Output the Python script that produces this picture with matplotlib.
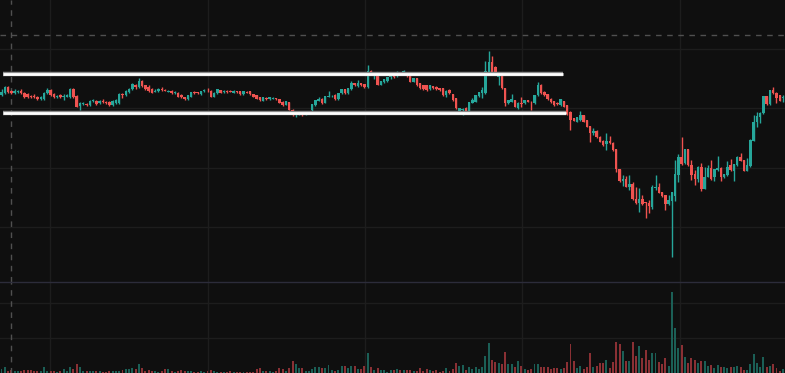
import matplotlib.pyplot as plt
import numpy as np

# candle data, one value per bar (price units are arbitrary)
opens = [205, 207, 213, 209, 207, 208, 209, 207, 206, 204, 204, 203, 201, 201, 207, 210, 206, 203, 205, 203,
         203, 203, 211, 204, 194, 196, 196, 195, 199, 199, 197, 199, 198, 198, 195, 197, 197, 206, 205, 208,
         211, 215, 213, 219, 215, 213, 211, 208.5, 209, 210.5, 210, 208.5, 209.3, 206.7, 207.3, 204.7, 202.7, 201.3, 203.3, 207.7,
         207.7, 206, 208.7, 209.3, 209.3, 203.3, 206.7, 210, 208, 209.3, 209, 207.3, 209.3, 208.7, 206, 208.5, 208.7, 206, 204.7, 202.7,
         199.3, 202.3, 200.7, 201.5, 201.7, 200.7, 198.3, 195.3, 198, 190, 184.7, 186, 186.7, 186, 187, 190, 195, 199.3, 201.3, 197.3,
         203.5, 203.7, 205.3, 200.7, 206.7, 210.7, 206.7, 210.7, 216.7, 214, 216.7, 216, 212.7, 229.3, 224, 224, 215.3, 218, 218.7, 222.7,
         226.7, 224, 227.5, 226.7, 226.7, 225, 218.3, 221.7, 216.7, 215, 215, 210.7, 214, 213.3, 211.7, 211.7, 205, 210, 206, 201.7,
         189.3, 190, 191.7, 189.3, 197.3, 198.3, 204, 206.7, 206.7, 228.3, 238.3, 232.7, 223.3, 226, 211.7, 196.7, 198.3, 200, 191.7, 197,
         196.7, 200, 198.3, 196.7, 205, 215, 208, 206, 201.3, 199.3, 197.5, 195, 198.7, 195, 188.3, 181.7, 178.3, 180, 185, 180,
         174, 167.3, 169.3, 163.3, 159.3, 155.7, 159, 157.3, 151, 130.7, 119.3, 121.3, 113.3, 116, 100.7, 96.7, 100.7, 97.5, 96.7, 93.3,
         111.7, 112.7, 108.3, 105, 96, 99.3, 104, 125, 142.7, 136.7, 150.7, 135, 126, 120.7, 132.7, 111.3, 123.3, 131.7, 122.7, 130,
         131.7, 122.7, 125, 135, 129.3, 135, 142.7, 140, 129.3, 134, 159.3, 178, 183.3, 186.7, 204, 196, 210, 206.7, 205, 202,
         203]
highs = [211, 214, 214, 210, 211, 210, 211, 208, 207, 205, 206, 204, 204, 208, 212, 211, 207, 205, 206, 206,
         206, 212, 212, 205, 198, 198, 197, 200, 201, 200, 200, 201, 199, 199, 200, 201, 207, 207, 210, 212,
         217, 216, 222, 220, 215, 215, 212, 211, 212, 213, 211, 210.5, 210, 209, 208, 206, 203.5, 205, 208.5, 209,
         208.5, 209.5, 211, 211.7, 210, 208, 211, 210.5, 210.5, 210, 210, 210.5, 209.5, 209, 209, 209.5, 209.5, 206.5, 205, 203,
         203, 203, 203.5, 203, 202, 201, 199, 199, 198.5, 191.5, 187, 187.5, 187.5, 189.3, 189, 196.5, 200.5, 202.7, 202, 204.5,
         209.3, 205, 206, 207.5, 211, 211.5, 212.5, 219.3, 217.5, 220, 217.3, 216.5, 235, 230, 226.7, 224.5, 219, 221, 223, 226,
         227, 229, 228.5, 230, 227.5, 226, 222, 222, 217, 215.5, 215.5, 215.5, 214.5, 214, 212.5, 212.5, 210, 211, 206.5, 202,
         192, 192, 193, 198.5, 202, 205.5, 208.5, 213.3, 239, 249, 244, 234, 228.5, 227, 212, 200.5, 206, 200.5, 198, 203.3,
         200.5, 200.5, 199, 205.5, 218.3, 216.5, 209, 206.5, 202, 199.5, 198, 201, 199.5, 195.5, 189, 182, 183, 189.3, 185.5, 180.5,
         174.5, 171.7, 170, 164, 160, 167.3, 164, 158, 151.5, 131, 125, 124, 125, 118.3, 113.3, 112, 105, 98, 100, 115,
         125, 116.7, 108.5, 105.5, 105, 108.5, 140, 146, 162.7, 151, 151, 140, 130, 134, 136.7, 132.7, 135, 140, 131, 144,
         132.7, 126.5, 139, 140.7, 136.5, 144, 146.7, 140.5, 141.7, 161, 185, 188.3, 188, 204.5, 204.5, 210.5, 212.7, 208.3, 205.5, 205,
         205]
lows = [204, 206, 207, 206, 206, 207, 206, 202, 202, 202, 202, 200, 200, 200, 206, 204, 202, 202, 202, 200,
        203, 202, 202, 193, 190, 195, 194, 194, 198, 195, 196, 197, 196, 194, 194, 196, 196, 202, 204, 207,
        210, 211, 212, 213, 210, 208, 207, 208, 208, 209, 209, 208, 206, 206, 203, 202, 200.5, 200.5, 203, 206,
        206, 205.5, 208, 208.5, 203, 203, 206, 207, 207.5, 207.5, 208, 207, 207.5, 205.5, 205.5, 207, 205.5, 203, 201, 199,
        199, 200, 200, 201, 200, 197, 194.5, 195, 190, 184, 182.7, 185.5, 184.5, 185.5, 186.5, 189.5, 194.5, 199, 196, 197,
        202.7, 203, 200, 200, 206, 206, 206.5, 210, 214, 213.5, 214, 212, 212, 225.5, 221.3, 215, 215, 217.5, 218, 221,
        222, 223.5, 226, 226, 223.5, 218, 218, 214, 211, 210, 209.5, 210, 211, 210, 209, 204.5, 203.5, 206, 199.5, 191,
        189, 185, 189, 189, 197, 198, 203.5, 202, 206, 228, 228, 228, 215, 211, 193.7, 196, 198, 193, 191.3, 193.3,
        196, 198, 190, 196.5, 204.5, 206.5, 204.5, 200.5, 197.5, 194.5, 195.5, 194.5, 193, 185.5, 170, 179, 178, 179.5, 178, 173,
        158.3, 165, 162, 158, 154.5, 150, 156, 149.5, 128.3, 118.5, 114, 113, 110, 100, 96, 88.3, 95.5, 81.7, 87.3, 91,
        110, 107, 103.5, 90, 95.5, 43.3, 99, 118.3, 135.5, 136, 134.5, 120, 115, 118.3, 109.3, 111, 123, 120, 119.3, 129.5,
        119.3, 122, 124.5, 129.5, 119.3, 134.5, 139, 129, 129, 133.5, 159, 173.3, 176.7, 186.5, 195.5, 195.5, 206, 197.3, 199, 198.3,
        202]
closes = [208, 213, 208, 207, 209, 209, 207, 203, 203, 203, 203, 201, 203, 207, 210, 205, 203, 204, 203, 204,
          205, 211, 203, 193, 197, 197, 195, 199, 200, 196, 199, 198, 197, 195, 199, 200, 206, 205, 209, 211,
          216, 213, 219, 214, 211, 209, 207, 209, 211, 210, 209.5, 209.3, 206.7, 208, 203.3, 202.7, 201.3, 204.7, 208, 206.7,
          206.7, 209.3, 210, 208.7, 203.3, 207.3, 210.7, 207.3, 209.3, 208, 208.5, 209.3, 208, 206, 208.7, 207.5, 206, 203.3, 201.3, 200,
          202.7, 200.7, 202.7, 202, 200.7, 197.3, 195, 198.7, 190, 184.7, 186.7, 186.7, 185, 187.3, 188.7, 196, 200, 200.7, 196.7, 204,
          204, 204.3, 200.7, 207.3, 210.7, 206.7, 212, 217.3, 214.7, 217.3, 214.7, 212.7, 228.7, 226, 224.5, 215.3, 218.7, 220.7, 222.7, 225.3,
          222.7, 228, 226.5, 229.3, 224, 218.3, 221.7, 215, 211.7, 210.7, 210, 215, 211.7, 210.7, 210, 205, 209.3, 206.7, 200, 191.7,
          191.7, 191.5, 189.3, 198.3, 200, 205, 208.3, 210, 229.3, 238.3, 228.3, 228.3, 228.3, 211.7, 196.7, 200, 200.7, 193.3, 197.3, 196.5,
          200, 198.3, 197.7, 205, 215, 206.7, 205.3, 200.7, 198, 194.7, 196, 200.7, 193.3, 186, 180, 179.3, 182.7, 185, 178.3, 173.3,
          167.3, 169.3, 162.7, 158.3, 155, 159, 156.7, 150, 130.7, 119.3, 121.3, 113.3, 116, 100.7, 96.7, 100.7, 96, 97, 94, 113.3,
          113.3, 107.3, 104, 96, 100, 108.3, 126, 142.7, 136, 150.7, 135, 125, 120.7, 132.7, 111.3, 122.7, 131.7, 120.7, 130.7, 131.7,
          122.7, 126, 133.3, 130, 136, 142.7, 139.3, 129.3, 134.7, 160, 178.3, 184, 187.3, 204, 196, 210, 206.7, 201.7, 199.3, 203,
          204]
volumes = [4, 6, 2, 3, 2, 2, 2, 3, 3, 3, 2, 2, 2, 6, 2, 2, 2, 1, 2, 4,
           2, 6, 4, 9, 6, 2, 2, 2, 2, 2, 2, 1, 1, 2, 2, 2, 2, 3, 4, 4,
           5, 4, 9, 5, 2, 3, 2, 2, 1, 2, 4, 4, 2, 1, 2, 3, 2, 2, 2, 1,
           1, 2, 1, 2, 3, 2, 1, 1, 1, 1, 2, 1, 1, 1, 1, 1, 1, 1, 4, 5,
           2, 2, 2, 1, 2, 5, 4, 2, 5, 12, 9, 5, 5, 2, 2, 4, 6, 6, 5, 5,
           8, 3, 2, 3, 7, 7, 5, 7, 7, 4, 4, 7, 20, 6, 3, 5, 3, 3, 1, 3,
           3, 4, 3, 3, 3, 3, 2, 2, 5, 2, 4, 3, 2, 3, 1, 2, 5, 2, 4, 10,
           7, 8, 3, 6, 4, 6, 4, 6, 17, 30, 13, 11, 10, 9, 21, 9, 9, 6, 12, 7,
           4, 3, 4, 9, 9, 6, 6, 6, 4, 5, 5, 4, 5, 11, 29, 12, 5, 7, 4, 6,
           20, 6, 7, 10, 10, 13, 5, 11, 31, 29, 22, 12, 12, 31, 17, 27, 15, 23, 13, 20,
           20, 11, 9, 15, 7, 81, 45, 25, 28, 16, 10, 15, 13, 10, 12, 12, 7, 8, 5, 8,
           6, 6, 5, 6, 6, 7, 6, 3, 3, 9, 19, 10, 6, 16, 6, 7, 9, 5, 2, 4,
           3]

# the two white range lines drawn on the chart
range_levels = [226.3, 187.3]
range_ends = [171.6, 172.5]

o = np.array(opens)
h = np.array(highs)
l = np.array(lows)
c = np.array(closes)
v = np.array(volumes)
x = np.arange(len(c))
up = c >= o

bg = '#0f0f0f'
green = '#26a69a'
red = '#ef5350'
grid_col = '#1d1d1d'

fig = plt.figure(figsize=(7.85, 3.73), dpi=100, facecolor=bg)
ax = fig.add_axes([0, 91 / 373, 1, 282 / 373])
axv = fig.add_axes([0, 0, 1, 91 / 373])

for a in (ax, axv):
    a.set_facecolor(bg)
    for s in a.spines.values():
        s.set_visible(False)
    a.tick_params(length=0, labelbottom=False, labelleft=False)
    a.set_xlim(-0.46, 239.6)
    a.set_xticks([14.8, 63.1, 111.2, 159.2, 207.5])
    a.grid(True, color=grid_col, linewidth=1)
    a.set_axisbelow(True)

ax.set_ylim(18, 300)
ax.set_yticks([251, 192, 132, 73])
axv.set_ylim(0, 91)
axv.set_yticks([35, 70])

# candles
cols = np.where(up, green, red)
ax.vlines(x, l, h, colors=cols, linewidth=1, zorder=2)
body = np.maximum(np.abs(c - o), 0.8)
ax.bar(x, body, bottom=np.minimum(o, c), width=0.75, color=cols, linewidth=0, zorder=3)

# volume
vcols = np.where(up, '#1b5f56', '#8a3034')
axv.bar(x, v, width=0.6, color=vcols, linewidth=0)

# range lines
for lvl, end in zip(range_levels, range_ends):
    ax.hlines(lvl, 0.6, end, colors='#8c8c8c', linewidth=3.2, zorder=4)
    ax.hlines(lvl, 0.6, end, colors='white', linewidth=2.0, zorder=5)

# crosshair
ax.axhline(265, color='#505050', linewidth=1, linestyle=(0, (4, 4)), zorder=1)
ax.axvline(2.9, color='#505050', linewidth=1, linestyle=(0, (4, 4)), zorder=1)
axv.axvline(2.9, color='#505050', linewidth=1, linestyle=(0, (4, 4)), zorder=1)

# pane separator
fig.add_artist(plt.Line2D([0, 1], [91 / 373, 91 / 373], color='#2c2c3a', linewidth=1))

fig.savefig('out.png', dpi=100, facecolor=bg)
